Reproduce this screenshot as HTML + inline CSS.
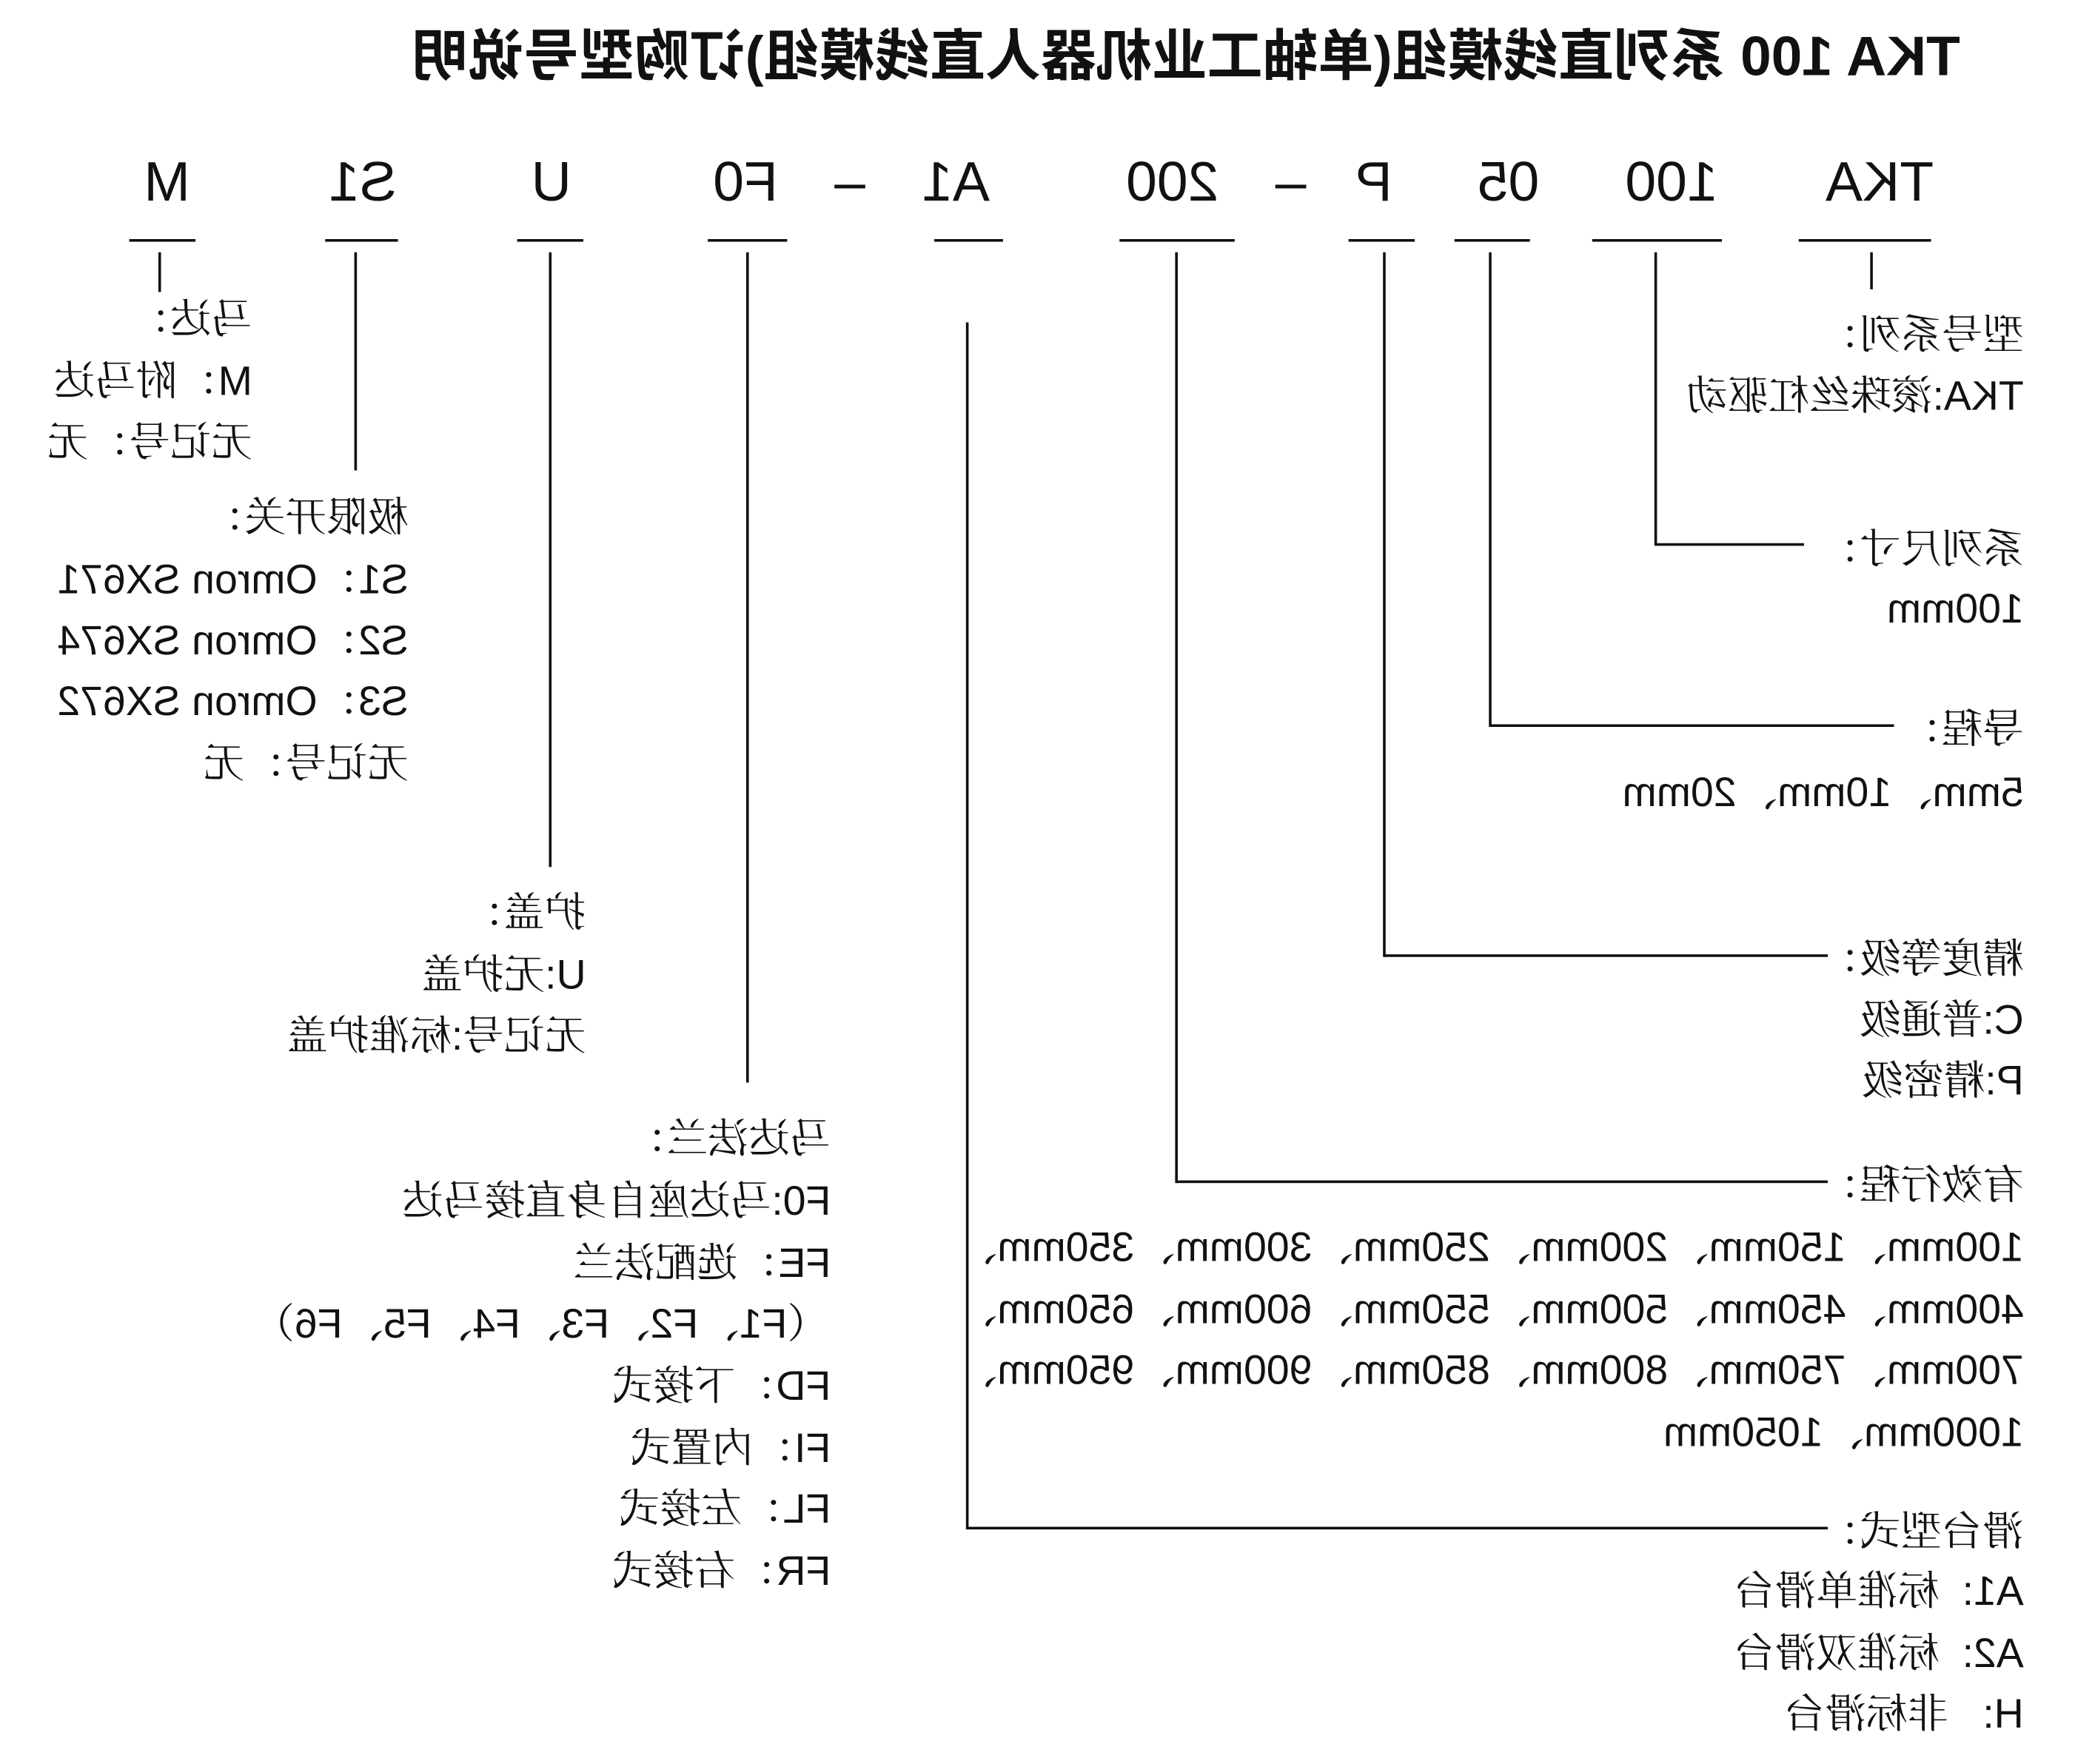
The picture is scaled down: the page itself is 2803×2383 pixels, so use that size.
<!DOCTYPE html>
<html><head><meta charset="utf-8"><style>
html,body{margin:0;padding:0;background:#fff;width:2803px;height:2383px;overflow:hidden}
#c{position:absolute;left:0;top:0;width:1560px;height:1326px;transform-origin:0 0;transform:matrix(-1.7884,0,0,1.786,2791,1.5);font-family:"Liberation Sans","Noto Serif CJK SC",serif;color:#111}
.t{position:absolute;font-size:31px;line-height:30px;white-space:nowrap}
.t i{font-style:normal;font-size:31px;font-family:"Noto Serif CJK SC",serif}
.k{position:absolute;font-size:42px;line-height:44px;white-space:nowrap;font-family:"Liberation Sans",sans-serif}
.h{position:absolute;height:2px;background:#111}
.v{position:absolute;width:2px;background:#111}
</style></head><body><div id="c">
<div style="position:absolute;left:80px;top:18px;font-size:41.9px;line-height:48px;font-weight:bold;white-space:nowrap;font-family:'Liberation Sans','Noto Sans CJK SC',sans-serif">TKA 100 系列直线模组(单轴工业机器人直线模组)订购型号说明</div>

<div class="k" style="left:100px;top:115px">TKA</div>
<div class="k" style="left:263px;top:115px">100</div>
<div class="k" style="left:398px;top:115px">05</div>
<div class="k" style="left:509px;top:115px">P</div>
<div class="k" style="left:574px;top:115px">–</div>
<div class="k" style="left:640px;top:115px">200</div>
<div class="k" style="left:813px;top:115px">A1</div>
<div class="k" style="left:907px;top:115px">–</div>
<div class="k" style="left:973px;top:115px">F0</div>
<div class="k" style="left:1129px;top:115px">U</div>
<div class="k" style="left:1261px;top:115px">S1</div>
<div class="k" style="left:1417px;top:115px">M</div>

<div class="h" style="left:102px;width:100px;top:180px"></div>
<div class="h" style="left:260px;width:98px;top:180px"></div>
<div class="h" style="left:405px;width:57px;top:180px"></div>
<div class="h" style="left:492px;width:50px;top:180px"></div>
<div class="h" style="left:628px;width:87px;top:180px"></div>
<div class="h" style="left:803px;width:52px;top:180px"></div>
<div class="h" style="left:966px;width:60px;top:180px"></div>
<div class="h" style="left:1120px;width:50px;top:180px"></div>
<div class="h" style="left:1260px;width:55px;top:180px"></div>
<div class="h" style="left:1413px;width:50px;top:180px"></div>

<div class="v" style="left:146px;top:190px;height:28px"></div>
<div class="v" style="left:309px;top:190px;height:222px"></div>
<div class="h" style="left:198px;width:112px;top:410px"></div>
<div class="v" style="left:434px;top:190px;height:359px"></div>
<div class="h" style="left:130px;width:305px;top:547px"></div>
<div class="v" style="left:514px;top:190px;height:533px"></div>
<div class="h" style="left:180px;width:335px;top:721px"></div>
<div class="v" style="left:671px;top:190px;height:704px"></div>
<div class="h" style="left:180px;width:492px;top:892px"></div>
<div class="v" style="left:829px;top:243px;height:913px"></div>
<div class="h" style="left:180px;width:650px;top:1154px"></div>
<div class="v" style="left:995px;top:190px;height:628px"></div>
<div class="v" style="left:1144px;top:190px;height:465px"></div>
<div class="v" style="left:1291px;top:190px;height:165px"></div>
<div class="v" style="left:1439px;top:190px;height:30px"></div>

<div class="t" style="left:32px;top:235px"><i>型号系列：</i></div>
<div class="t" style="left:32px;top:281px">TKA:<i>滚珠丝杠驱动</i></div>
<div class="t" style="left:32px;top:397px"><i>系列尺寸：</i></div>
<div class="t" style="left:32px;top:445px">100mm</div>
<div class="t" style="left:32px;top:533px"><i>导程：</i></div>
<div class="t" style="left:32px;top:581px">5mm<i>、</i>10mm<i>、</i>20mm</div>
<div class="t" style="left:32px;top:707px"><i>精度等级：</i></div>
<div class="t" style="left:32px;top:753px">C:<i>普通级</i></div>
<div class="t" style="left:32px;top:799px">P:<i>精密级</i></div>
<div class="t" style="left:32px;top:878px"><i>有效行程：</i></div>
<div class="t" style="left:32px;top:925px">100mm<i>、</i>150mm<i>、</i>200mm<i>、</i>250mm<i>、</i>300mm<i>、</i>350mm<i>、</i></div>
<div class="t" style="left:32px;top:972px">400mm<i>、</i>450mm<i>、</i>500mm<i>、</i>550mm<i>、</i>600mm<i>、</i>650mm<i>、</i></div>
<div class="t" style="left:32px;top:1018px">700mm<i>、</i>750mm<i>、</i>800mm<i>、</i>850mm<i>、</i>900mm<i>、</i>950mm<i>、</i></div>
<div class="t" style="left:32px;top:1065px">1000mm<i>、</i>1050mm</div>
<div class="t" style="left:32px;top:1140px"><i>滑台型式：</i></div>
<div class="t" style="left:32px;top:1185px">A1:&nbsp; <i>标准单滑台</i></div>
<div class="t" style="left:32px;top:1232px">A2:&nbsp; <i>标准双滑台</i></div>
<div class="t" style="left:32px;top:1278px">H:&nbsp;&nbsp; <i>非标滑台</i></div>

<div class="t" style="left:1370px;top:223px"><i>马达：</i></div>
<div class="t" style="left:1370px;top:270px">M<i>：附马达</i></div>
<div class="t" style="left:1370px;top:316px"><i>无记号：无</i></div>

<div class="t" style="left:1252px;top:373px"><i>极限开关：</i></div>
<div class="t" style="left:1252px;top:420px">S1<i>：</i>Omron SX671</div>
<div class="t" style="left:1252px;top:466px">S2<i>：</i>Omron SX674</div>
<div class="t" style="left:1252px;top:512px">S3<i>：</i>Omron SX672</div>
<div class="t" style="left:1252px;top:559px"><i>无记号：无</i></div>

<div class="t" style="left:1118px;top:672px"><i>护盖：</i></div>
<div class="t" style="left:1118px;top:719px">U:<i>无护盖</i></div>
<div class="t" style="left:1118px;top:765px"><i>无记号</i>:<i>标准护盖</i></div>

<div class="t" style="left:933px;top:843px"><i>马达法兰：</i></div>
<div class="t" style="left:933px;top:890px">F0:<i>马达座自身直接马达</i></div>
<div class="t" style="left:933px;top:937px">FE<i>：选配法兰</i></div>
<div class="t" style="left:935px;top:983px"><i>（</i>F1<i>、</i>F2<i>、</i>F3<i>、</i>F4<i>、</i>F5<i>、</i>F6<i>）</i></div>
<div class="t" style="left:933px;top:1030px">FD<i>：下接式</i></div>
<div class="t" style="left:933px;top:1077px">FI<i>：内置式</i></div>
<div class="t" style="left:933px;top:1123px">FL<i>：左接式</i></div>
<div class="t" style="left:933px;top:1170px">FR<i>：右接式</i></div>
</div></body></html>
